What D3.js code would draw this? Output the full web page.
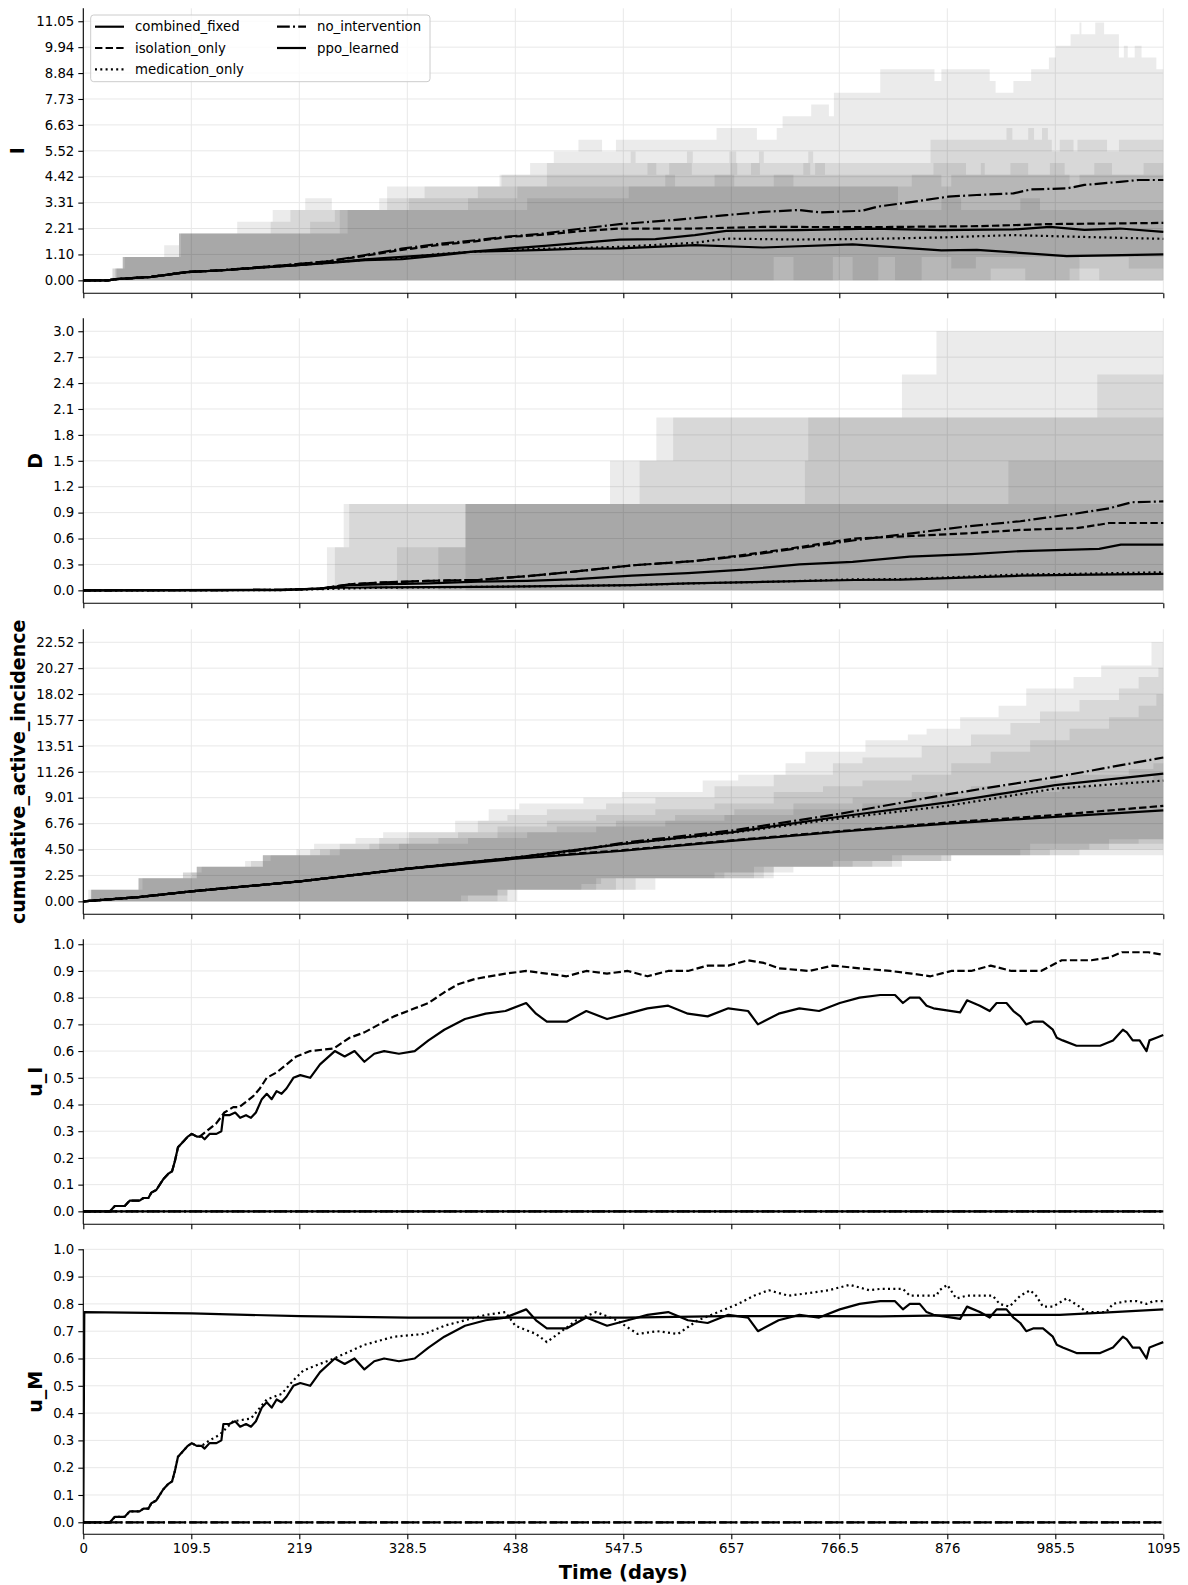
<!DOCTYPE html>
<html><head><meta charset="utf-8">
<script src="https://cdn.jsdelivr.net/npm/d3@7"></script>
<style>body{margin:0;background:#fff}svg{display:block;font-family:"DejaVu Sans",sans-serif}</style>
</head><body><svg id="c" width="1188" height="1585"></svg>
<script>
// ---------------- DATA ----------------
const policies = ["combined_fixed","isolation_only","medication_only","no_intervention","ppo_learned"];
const xTicks = [0,109.5,219,328.5,438,547.5,657,766.5,876,985.5,1095];
const xTickLabels = ["0","109.5","219","328.5","438","547.5","657","766.5","876","985.5","1095"];
const I_tickLabels = ["0.00","1.10","2.21","3.31","4.42","5.52","6.63","7.73","8.84","9.94","11.05"];
const D_tickLabels = ["0.0","0.3","0.6","0.9","1.2","1.5","1.8","2.1","2.4","2.7","3.0"];
const C_tickLabels = ["0.00","2.25","4.50","6.76","9.01","11.26","13.51","15.77","18.02","20.27","22.52"];
const U_tickLabels = ["0.0","0.1","0.2","0.3","0.4","0.5","0.6","0.7","0.8","0.9","1.0"];
const panelLabels = ["I","D","cumulative_active_incidence","u_I","u_M"];

// ---- I : mean lines ----
const I_combined = [[0,0],[25,0],[33,0.05],[69,0.15],[105,0.35],[141,0.43],[178,0.54],[214,0.64],[250,0.74],[286,0.86],[323,0.9],[359,1.05],[395,1.22],[431,1.26],[468,1.3],[504,1.35],[544,1.36],[620,1.5],[689,1.4],[780,1.53],[870,1.28],[906,1.3],[961,1.14],[997,1.03],[1095,1.11]];
const I_isolation = [[0,0],[25,0],[33,0.05],[69,0.15],[105,0.36],[141,0.43],[178,0.56],[214,0.68],[250,0.82],[286,1.05],[323,1.3],[359,1.5],[395,1.65],[431,1.85],[468,1.95],[504,2.1],[544,2.21],[620,2.21],[689,2.28],[800,2.27],[906,2.31],[980,2.4],[1051,2.43],[1095,2.45]];
const I_medication = [[0,0],[25,0],[33,0.05],[69,0.15],[105,0.35],[141,0.43],[178,0.54],[214,0.64],[250,0.75],[286,0.88],[323,0.95],[359,1.12],[395,1.22],[431,1.3],[468,1.35],[504,1.38],[544,1.43],[620,1.6],[652,1.78],[725,1.74],[800,1.77],[870,1.83],[943,1.93],[1015,1.85],[1095,1.77]];
const I_noint = [[0,0],[25,0],[33,0.05],[69,0.15],[105,0.36],[141,0.43],[178,0.56],[214,0.68],[250,0.82],[286,1.08],[323,1.35],[359,1.55],[395,1.7],[431,1.87],[468,2.0],[504,2.2],[544,2.4],[598,2.57],[652,2.78],[689,2.92],[725,3.0],[747,2.9],[790,2.97],[805,3.14],[841,3.35],[877,3.57],[906,3.64],[943,3.71],[961,3.88],[997,3.92],[1015,4.07],[1051,4.2],[1070,4.28],[1095,4.28]];
const I_ppo = [[0,0],[25,0],[33,0.05],[69,0.15],[105,0.35],[141,0.43],[178,0.54],[214,0.64],[250,0.76],[286,0.9],[323,1.0],[359,1.1],[395,1.23],[431,1.35],[468,1.47],[504,1.6],[544,1.74],[580,1.76],[620,1.93],[652,2.11],[725,2.14],[800,2.21],[870,2.14],[943,2.17],[980,2.28],[1015,2.15],[1051,2.21],[1095,2.07]];
// ---- I : band upper / lower (step) ----
const I_hi_noint = [[0,0],[29,0.5],[40,1],[82,1.5],[97,2],[156,2.5],[192,3],[225,3.5],[252,3],[308,4],[422,4.5],[453,5],[477,5.5],[502,6],[526,5.5],[540,6],[642,6.5],[683,6],[703,6.5],[709,7],[738,7.5],[756,7],[761,8],[808,9],[863,8.5],[870,9],[919,8.5],[925,8],[943,8.5],[961,9],[979,9.5],[986,10],[1001,10.5],[1010,11],[1012,10.5],[1026,11],[1035,10.5],[1050,9.5],[1055,10],[1059,9.5],[1066,10],[1073,9.5],[1088,9]];
const I_hi_isolation = [[0,0],[30,0.5],[40,1],[97,2],[190,2.5],[210,3],[300,3.5],[346,4],[424,4.5],[470,5],[555,5.5],[560,5],[612,5.5],[618,5],[655,5.5],[662,5],[685,5.5],[690,5],[735,5.5],[740,5],[859,6],[936,6.5],[942,6],[958,6.5],[964,6],[972,6.5],[978,6],[982,5.5],[990,6],[1004,5.5],[1008,6],[1038,5.5],[1050,6]];
const I_hi_medication = [[0,0],[32,0.5],[40,1],[97,2],[230,2.5],[255,3],[330,3.5],[400,4],[470,4.5],[572,5],[581,4.5],[594,5],[617,4.5],[656,5],[663,4.5],[677,5],[686,4.5],[730,5],[737,4.5],[742,5],[752,4.5],[862,5],[895,4.5],[910,5],[914,4.5],[940,5],[958,4.5],[980,5],[995,4.5],[1025,5],[1043,4.5],[1075,5]];
const I_hi_ppo = [[0,0],[33,0.5],[40,1],[97,2],[260,3],[390,3.5],[440,4],[590,4.5],[600,4],[640,4.5],[660,4],[700,4.5],[720,4],[840,4.5],[870,4],[880,4.5],[1000,4],[1010,4.5]];
const I_hi_combined = [[0,0],[34,0.5],[42,1],[99,2],[268,3],[450,3.5],[553,4],[826,3],[870,3.5],[890,3],[950,3.5],[970,3]];
const I_lo_noint = [[0,0],[700,1],[720,0],[760,1],[780,0],[850,1],[880,0.5],[905,1]];
const I_lo_isolation = [[0,0],[920,0.5],[955,0],[1010,1],[1060,0.5]];
const I_lo_medication = [[0,0],[806,1],[823,0],[1000,0.5],[1030,0]];
const I_lo_ppo = [[0,0]];
const I_lo_combined = [[0,0]];

// ---- D : mean lines ----
const D_combined = [[0,0],[200,0.002],[260,0.03],[300,0.035],[400,0.04],[556,0.06],[613,0.08],[700,0.1],[782,0.12],[830,0.125],[900,0.15],[951,0.17],[1000,0.18],[1095,0.19]];
const D_isolation = [[0,0],[200,0.005],[240,0.02],[270,0.07],[300,0.09],[350,0.11],[400,0.12],[456,0.17],[500,0.22],[557,0.29],[620,0.34],[670,0.41],[720,0.49],[782,0.6],[840,0.63],[895,0.66],[950,0.7],[1007,0.72],[1030,0.76],[1040,0.78],[1095,0.78]];
const D_medication = [[0,0],[200,0.002],[260,0.02],[300,0.03],[400,0.04],[556,0.06],[613,0.08],[700,0.1],[782,0.127],[830,0.13],[900,0.16],[951,0.185],[1000,0.19],[1095,0.21]];
const D_noint = [[0,0],[200,0.005],[240,0.02],[270,0.07],[300,0.09],[350,0.11],[400,0.12],[456,0.17],[500,0.22],[557,0.29],[620,0.34],[670,0.4],[720,0.48],[782,0.58],[840,0.66],[895,0.74],[950,0.8],[1007,0.89],[1040,0.95],[1063,1.02],[1095,1.03]];
const D_ppo = [[0,0],[200,0.005],[240,0.02],[270,0.06],[300,0.07],[350,0.08],[400,0.1],[450,0.11],[500,0.13],[556,0.17],[613,0.2],[670,0.24],[726,0.3],[780,0.33],[838,0.39],[900,0.42],[951,0.455],[1030,0.48],[1052,0.53],[1095,0.53]];
const D_hi_noint = [[0,0],[247,0.5],[264,1],[534,1.5],[581,2],[830,2.5],[865,3]];
const D_hi_isolation = [[0,0],[255,0.5],[269.5,1],[564,1.5],[598,2],[1028,2.5]];
const D_hi_ppo = [[0,0],[318,0.5],[387.5,1],[731.6,1.5],[735,2]];
const D_hi_medication = [[0,0],[360,0.5],[387.5,1],[938,1.5]];
const D_hi_combined = [[0,0],[387.5,1]];

// ---- cumulative_active_incidence : mean lines ----
const C_combined = [[0,0],[56,0.37],[109.5,0.87],[219.7,1.74],[328.5,2.82],[438,3.7],[547.5,4.4],[657,5.25],[766.5,6.05],[876,6.75],[985.5,7.35],[1095,7.9]];
const C_isolation = [[0,0],[56,0.37],[109.5,0.87],[219.7,1.74],[328.5,2.84],[438,3.75],[547.5,4.45],[657,5.3],[766.5,6.1],[876,6.85],[985.5,7.5],[1095,8.3]];
const C_medication = [[0,0],[56,0.37],[109.5,0.87],[219.7,1.74],[328.5,2.84],[438,3.8],[547.5,5.0],[657,5.95],[766.5,7.2],[876,8.3],[985.5,9.8],[1095,10.5]];
const C_noint = [[0,0],[56,0.37],[109.5,0.87],[219.7,1.74],[328.5,2.84],[438,3.8],[500,4.4],[547.5,5.1],[657,6.15],[766.5,7.6],[876,9.3],[985.5,10.8],[1095,12.5]];
const C_ppo = [[0,0],[56,0.37],[109.5,0.87],[219.7,1.74],[328.5,2.84],[438,3.8],[547.5,5.0],[657,6.0],[766.5,7.35],[876,8.6],[985.5,10.1],[1095,11.1]];
const C_hi_noint = [[0,0],[5,1],[56,2],[101,2.5],[115,3],[164,3.5],[182,4],[216,4.5],[234,5],[276,5.5],[304,6],[377,7],[411,8],[442,8.5],[507,9],[546,9.5],[628,10.5],[664,11],[712,12],[732,13],[793,14],[836,14.5],[855,15],[889,16],[928,17],[956,18.5],[1004,19.5],[1032,20.5],[1083,22.52]];
const C_hi_medication = [[0,0],[8,1],[60,2],[110,2.5],[120,3],[170,3.5],[190,4],[230,4.5],[260,5],[300,5.5],[330,6],[400,7],[430,7.5],[470,8],[530,8.5],[580,9],[640,10],[700,11],[760,12],[790,12.5],[850,13.5],[900,14.5],[940,15.5],[970,16.5],[1010,17.5],[1050,18.5],[1070,19.5],[1090,20.3]];
const C_hi_ppo = [[0,0],[8,1],[56,2],[101,2.5],[115,3],[182,4],[240,4.5],[290,5],[330,5.5],[380,6],[420,6.5],[470,7],[520,7.5],[580,8],[640,8.5],[700,9.5],[750,10],[790,10.5],[840,11],[880,12],[920,13],[960,14],[1000,15],[1040,16],[1070,17],[1088,18]];
const C_hi_isolation = [[0,0],[8,1],[56,2],[115,3],[182,4],[250,4.5],[300,5],[360,5.5],[420,6],[480,6.5],[540,7],[600,7.5],[660,8],[720,8.5],[780,9],[840,9.5],[900,10],[950,10.5],[1000,11],[1060,11.5],[1085,12]];
const C_hi_combined = [[0,0],[8,1],[56,2],[115,3],[182,4],[260,4.5],[320,5],[390,5.5],[450,6],[520,6.5],[590,7],[650,7.5],[720,8],[790,8.5],[860,9],[920,9.5],[990,10],[1050,10.5],[1085,11]];
const C_lo_combined = [[0,0],[383,0.5],[420,1],[520,2],[650,2.5],[700,3],[780,3.5],[880,4]];
const C_lo_isolation = [[0,0],[390,0.5],[430,1],[505,1.5],[525,2],[640,2.5],[720,3],[800,3.5],[880,4],[1010,4.5]];
const C_lo_medication = [[0,0],[420,1],[540,2],[680,3],[760,3.5],[870,4],[980,4.5],[1040,5]];
const C_lo_ppo = [[0,0],[430,1],[560,2],[690,3],[820,4],[950,4.5],[1020,5],[1070,5.4]];
const C_lo_noint = [[0,0],[440,1],[580,2],[700,3],[830,4],[960,5],[1040,5.4]];

// ---- u_I ----
const U_ppo = [[0,0],[27,0],[32,0.02],[42,0.02],[47,0.04],[57,0.04],[61,0.05],[66,0.05],[69,0.07],[74,0.08],[81,0.12],[86,0.14],[90,0.15],[93,0.19],[96,0.24],[101,0.26],[106,0.28],[110,0.29],[115,0.28],[120,0.28],[123,0.27],[128,0.29],[135,0.29],[140,0.3],[142,0.36],[148,0.36],[154,0.37],[159,0.35],[165,0.36],[170,0.35],[175,0.37],[181,0.42],[186,0.44],[191,0.42],[196,0.45],[201,0.44],[206,0.46],[213,0.5],[220,0.51],[230,0.5],[240,0.55],[255,0.6],[265,0.58],[275,0.6],[285,0.56],[295,0.59],[305,0.6],[320,0.59],[336,0.6],[350,0.64],[366,0.68],[387,0.72],[408,0.74],[428,0.75],[449,0.78],[459,0.74],[470,0.71],[490,0.71],[510,0.75],[531,0.72],[552,0.74],[572,0.76],[593,0.77],[613,0.74],[633,0.73],[654,0.76],[674,0.75],[684,0.7],[705,0.74],[726,0.76],[746,0.75],[767,0.78],[787,0.8],[808,0.81],[823,0.81],[831,0.78],[838,0.8],[848,0.8],[855,0.77],[862,0.76],[889,0.745],[896,0.79],[909,0.77],[919,0.75],[926,0.78],[936,0.78],[943,0.75],[950,0.73],[956,0.7],[963,0.71],[973,0.71],[983,0.68],[987,0.65],[993,0.64],[1007,0.62],[1021,0.62],[1031,0.62],[1044,0.64],[1054,0.68],[1058,0.67],[1064,0.64],[1071,0.64],[1078,0.6],[1081,0.64],[1088,0.65],[1095,0.66]];
const UI_isolation = [[0,0],[27,0],[32,0.02],[42,0.02],[47,0.04],[57,0.04],[61,0.05],[66,0.05],[69,0.07],[74,0.08],[81,0.12],[86,0.14],[90,0.15],[93,0.19],[96,0.24],[101,0.26],[106,0.28],[110,0.29],[115,0.28],[118,0.28],[125,0.3],[135,0.33],[143,0.37],[152,0.39],[158,0.39],[165,0.41],[172,0.43],[179,0.46],[186,0.5],[196,0.52],[206,0.55],[216,0.58],[230,0.6],[254,0.61],[270,0.65],[285,0.67],[300,0.7],[315,0.73],[336,0.76],[350,0.78],[366,0.82],[380,0.85],[397,0.87],[428,0.89],[449,0.9],[470,0.89],[490,0.88],[510,0.9],[531,0.89],[552,0.9],[572,0.88],[593,0.9],[613,0.9],[633,0.92],[654,0.92],[674,0.94],[690,0.93],[705,0.91],[736,0.9],[760,0.92],[787,0.91],[818,0.9],[840,0.89],[859,0.88],[880,0.9],[900,0.9],[920,0.92],[941,0.9],[971,0.9],[992,0.94],[1022,0.94],[1040,0.95],[1053,0.97],[1080,0.97],[1095,0.96]];
const UI_zero = [[0,0],[1095,0]];
// ---- u_M ----
const UM_medication = [[0,0],[27,0],[32,0.02],[42,0.02],[47,0.04],[57,0.04],[61,0.05],[66,0.05],[69,0.07],[74,0.08],[81,0.12],[86,0.14],[90,0.15],[93,0.19],[96,0.24],[101,0.26],[106,0.28],[110,0.29],[115,0.28],[120,0.28],[128,0.3],[138,0.32],[152,0.37],[170,0.38],[186,0.45],[201,0.47],[213,0.52],[223,0.556],[254,0.6],[285,0.65],[315,0.68],[346,0.69],[366,0.72],[387,0.74],[408,0.76],[428,0.77],[438,0.72],[459,0.69],[470,0.66],[485,0.7],[500,0.74],[520,0.77],[541,0.74],[562,0.69],[582,0.7],[603,0.69],[623,0.74],[644,0.77],[664,0.8],[680,0.83],[695,0.85],[715,0.83],[736,0.84],[756,0.85],[777,0.87],[797,0.85],[808,0.855],[831,0.855],[838,0.83],[865,0.83],[868,0.85],[876,0.87],[885,0.82],[896,0.83],[922,0.83],[929,0.8],[939,0.79],[950,0.83],[960,0.85],[966,0.83],[973,0.79],[983,0.79],[997,0.82],[1010,0.79],[1017,0.77],[1037,0.77],[1044,0.8],[1058,0.81],[1068,0.81],[1078,0.8],[1085,0.81],[1095,0.81]];
const UM_combined = [[0,0],[1,0.77],[110,0.765],[220,0.755],[330,0.75],[450,0.75],[550,0.75],[650,0.755],[750,0.755],[808,0.754],[909,0.76],[990,0.76],[1044,0.77],[1095,0.78]];
const UM_zero = [[0,0],[1095,0]];

// ---------------- DRAWING ----------------
const svg = d3.select("#c");
const L = 83.3, R = 1163.3, PH = 285;
const tops = [8.3, 318.3, 629.3, 939.3, 1249.3];
const x = d3.scaleLinear().domain([0,1095]).range([L,R]);
const dashes = {combined_fixed:null, isolation_only:"7.4,3.2", medication_only:"2,3.3", no_intervention:"12.8,3.2,2,3.2", ppo_learned:null};
const LW = 2.2;

function stepVal(arr,t){let v=arr[0][1];for(const p of arr){if(p[0]<=t)v=p[1];else break;}return v;}
function bandData(hi,lo){
  const ts = Array.from(new Set([...hi.map(d=>d[0]),...lo.map(d=>d[0]),1095])).sort((a,b)=>a-b);
  return ts.map(t=>[t,stepVal(lo,t),stepVal(hi,t)]);
}
const zero=[[0,0]];
const panels = [
  {max:11.05, labels:I_tickLabels, dom:[-0.5525,11.6025], lx:17,
   bands:[[I_hi_combined,I_lo_combined],[I_hi_isolation,I_lo_isolation],[I_hi_medication,I_lo_medication],[I_hi_noint,I_lo_noint],[I_hi_ppo,I_lo_ppo]],
   lines:[["combined_fixed",I_combined],["isolation_only",I_isolation],["medication_only",I_medication],["no_intervention",I_noint],["ppo_learned",I_ppo]]},
  {max:3.0, labels:D_tickLabels, dom:[-0.15,3.15], lx:35,
   bands:[[D_hi_combined,zero],[D_hi_isolation,zero],[D_hi_medication,zero],[D_hi_noint,zero],[D_hi_ppo,zero]],
   lines:[["combined_fixed",D_combined],["isolation_only",D_isolation],["medication_only",D_medication],["no_intervention",D_noint],["ppo_learned",D_ppo]]},
  {max:22.52, labels:C_tickLabels, dom:[-1.126,23.646], lx:18,
   bands:[[C_hi_combined,C_lo_combined],[C_hi_isolation,C_lo_isolation],[C_hi_medication,C_lo_medication],[C_hi_noint,C_lo_noint],[C_hi_ppo,C_lo_ppo]],
   lines:[["combined_fixed",C_combined],["isolation_only",C_isolation],["medication_only",C_medication],["no_intervention",C_noint],["ppo_learned",C_ppo]]},
  {max:1.0, labels:U_tickLabels, dom:[-0.0485,1.0185], lx:35, bands:[],
   lines:[["combined_fixed",UI_zero],["isolation_only",UI_isolation],["medication_only",UI_zero],["no_intervention",UI_zero],["ppo_learned",U_ppo]]},
  {max:1.0, labels:U_tickLabels, dom:[-0.044,1.0], lx:35, bands:[],
   lines:[["combined_fixed",UM_combined],["isolation_only",UM_zero],["medication_only",UM_medication],["no_intervention",UM_zero],["ppo_learned",U_ppo]]}
];

panels.forEach((p,i)=>{
  const top=tops[i], bot=top+PH;
  const y=d3.scaleLinear().domain(p.dom).range([bot,top]);
  const g=svg.append("g");
  const cid="clip"+i;
  svg.append("clipPath").attr("id",cid).append("rect").attr("x",L).attr("y",top).attr("width",R-L+2).attr("height",PH);
  const yt = p.labels.map((s,k)=>p.max*k/10);
  // grid
  g.selectAll(".gx").data(xTicks).join("line").attr("x1",d=>x(d)).attr("x2",d=>x(d)).attr("y1",top).attr("y2",bot).attr("stroke","#e8e8e8").attr("stroke-width",1);
  g.selectAll(".gy").data(yt).join("line").attr("x1",L).attr("x2",R).attr("y1",d=>y(d)).attr("y2",d=>y(d)).attr("stroke","#e8e8e8").attr("stroke-width",1);
  const pg=g.append("g").attr("clip-path",`url(#${cid})`);
  const area=d3.area().curve(d3.curveStepAfter).x(d=>x(d[0])).y0(d=>y(d[1])).y1(d=>y(d[2]));
  p.bands.forEach(([hi,lo])=>{
    pg.append("path").datum(bandData(hi,lo)).attr("d",area).attr("fill","#000").attr("fill-opacity",0.08);
  });
  const line=d3.line().x(d=>x(d[0])).y(d=>y(d[1]));
  p.lines.forEach(([name,data])=>{
    pg.append("path").datum(data).attr("d",line).attr("fill","none").attr("stroke","#000").attr("stroke-width",LW)
      .attr("stroke-linejoin","round").attr("stroke-dasharray",dashes[name]);
  });
  // axes
  const ax=d3.axisLeft(y).tickValues(yt).tickFormat((d,k)=>p.labels[k]).tickSize(5).tickPadding(4);
  const ga=g.append("g").attr("transform",`translate(${L},0)`).call(ax);
  ga.select(".domain").attr("d",`M0,${top}V${bot}`).attr("stroke","#000").attr("stroke-width",1.1);
  ga.selectAll("text").attr("font-size",13.3).attr("fill","#000").attr("font-family","DejaVu Sans");
  ga.selectAll(".tick line").attr("stroke","#000").attr("stroke-width",1.1);
  const bx=d3.axisBottom(x).tickValues(xTicks).tickFormat((d,k)=> i===4?xTickLabels[k]:"").tickSize(5).tickPadding(4);
  const gb=g.append("g").attr("transform",`translate(0,${bot})`).call(bx);
  gb.select(".domain").attr("d",`M${L},0H${R}`).attr("stroke","#000").attr("stroke-width",1.1);
  gb.selectAll("text").attr("font-size",13.3).attr("fill","#000").attr("font-family","DejaVu Sans");
  gb.selectAll(".tick line").attr("stroke","#000").attr("stroke-width",1.1);
  // y label
  svg.append("text").attr("transform",`translate(${p.lx},${top+PH/2}) rotate(-90)`).attr("text-anchor","middle").attr("dominant-baseline","central")
    .attr("font-weight","bold").attr("font-size",19).text(panelLabels[i]);
});
svg.append("text").attr("x",(L+R)/2).attr("y",1579).attr("text-anchor","middle").attr("font-weight","bold").attr("font-size",19.5).text("Time (days)");

// legend
const lg=svg.append("g");
lg.append("rect").attr("x",90.7).attr("y",15).attr("width",339.3).attr("height",66.7).attr("rx",3).attr("fill","#fff").attr("fill-opacity",0.8).attr("stroke","#cccccc").attr("stroke-width",1);
const legPos=[[95,26.7],[95,48],[95,69.3],[277,26.7],[277,48]];
policies.forEach((name,k)=>{
  const [lx,ly]=legPos[k];
  lg.append("line").attr("x1",lx).attr("x2",lx+29).attr("y1",ly).attr("y2",ly).attr("stroke","#000").attr("stroke-width",LW).attr("stroke-dasharray",dashes[name]);
  lg.append("text").attr("x",lx+40).attr("y",ly).attr("dominant-baseline","central").attr("font-size",13.3).text(name);
});
</script></body></html>
